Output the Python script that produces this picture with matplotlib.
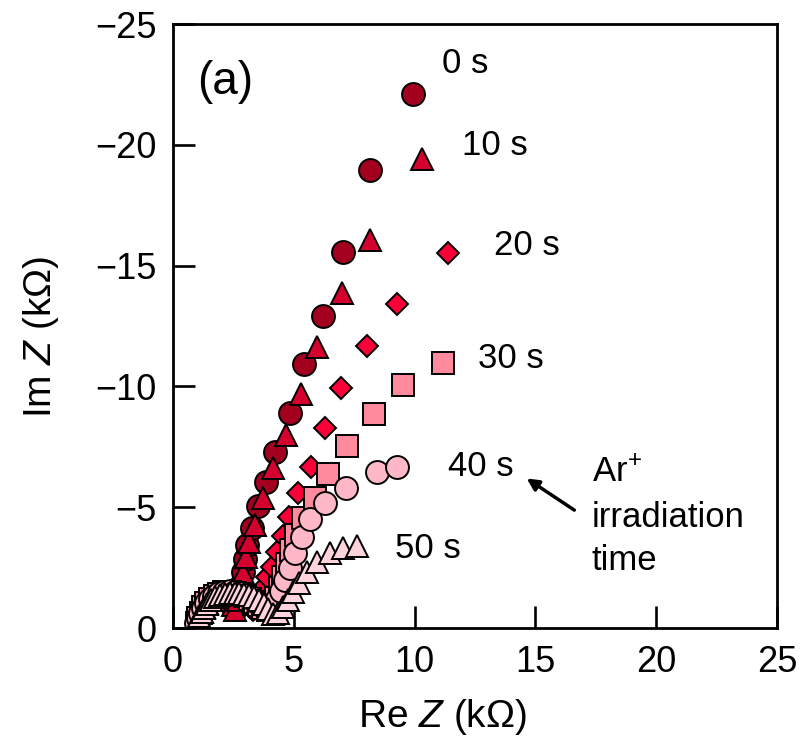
import matplotlib
matplotlib.use("Agg")
import matplotlib.pyplot as plt

plt.rcParams['font.family'] = ['Liberation Sans', 'DejaVu Sans']
plt.rcParams['mathtext.fontset'] = 'custom'
plt.rcParams['mathtext.rm'] = 'Liberation Sans'
plt.rcParams['mathtext.it'] = 'Liberation Sans:italic'

# ---- data (Re Z, Im Z in kOhm) ----
labels = ["0 s", "10 s", "20 s", "30 s", "40 s", "50 s"]

re_0 = [1.03, 1.10, 1.19, 1.29, 1.41, 1.54, 1.68, 1.83, 1.98, 2.13, 2.28, 2.42, 2.55,
        2.66, 2.74, 2.81, 2.89, 2.97, 3.08, 3.26, 3.50, 3.84, 4.22, 4.84, 5.42, 6.22, 7.05, 8.15, 9.95]
im_0 = [-0.28, -0.48, -0.68, -0.87, -1.03, -1.16, -1.25, -1.30, -1.30, -1.25, -1.15, -1.00, -0.80,
        -0.95, -1.35, -1.80, -2.30, -2.85, -3.45, -4.15, -5.03, -6.06, -7.30, -8.91, -10.91, -12.93, -15.55, -18.96, -22.09]

re_10 = [1.02, 1.09, 1.18, 1.29, 1.41, 1.55, 1.70, 1.86, 2.02, 2.18, 2.33, 2.47,
         2.57, 2.69, 2.79, 2.91, 3.02, 3.16, 3.39, 3.71, 4.15, 4.68, 5.28, 5.95, 6.98, 8.15, 10.32]
im_10 = [-0.25, -0.45, -0.65, -0.85, -1.02, -1.16, -1.26, -1.31, -1.31, -1.26, -1.15, -0.95,
         -0.75, -1.16, -1.66, -2.26, -2.95, -3.57, -4.26, -5.37, -6.61, -7.99, -9.67, -11.62, -13.85, -16.06, -19.40]

re_20 = [1.00, 1.07, 1.16, 1.27, 1.40, 1.55, 1.72, 1.90, 2.09, 2.28, 2.47, 2.66, 2.84, 3.01, 3.17,
         3.32, 3.48, 3.62, 3.75, 3.90, 4.09, 4.32, 4.54, 4.81, 5.16, 5.70, 6.29, 6.95, 8.02, 9.26, 11.40]
im_20 = [-0.25, -0.45, -0.66, -0.86, -1.04, -1.19, -1.31, -1.39, -1.43, -1.43, -1.39, -1.31, -1.19, -1.04, -0.88,
         -0.75, -0.95, -1.30, -1.70, -2.12, -2.54, -3.16, -3.81, -4.61, -5.58, -6.68, -8.29, -9.92, -11.69, -13.39, -15.54]

re_30 = [0.98, 1.05, 1.14, 1.25, 1.38, 1.54, 1.72, 1.92, 2.13, 2.35, 2.57, 2.79, 3.00, 3.20, 3.39, 3.57, 3.74,
         3.92, 4.10, 4.28, 4.42, 4.55, 4.70, 4.88, 5.09, 5.39, 5.88, 6.43, 7.19, 8.32, 9.53, 11.16]
im_30 = [-0.22, -0.43, -0.64, -0.85, -1.04, -1.20, -1.33, -1.42, -1.47, -1.48, -1.46, -1.41, -1.33, -1.22, -1.08, -0.94, -0.82,
         -0.75, -0.95, -1.25, -1.65, -2.12, -2.65, -3.23, -3.85, -4.54, -5.40, -6.36, -7.55, -8.86, -10.06, -10.96]

re_40 = [0.97, 1.04, 1.13, 1.24, 1.37, 1.53, 1.71, 1.91, 2.12, 2.34, 2.56, 2.78, 3.00, 3.21, 3.41, 3.60, 3.78,
         3.96, 4.15, 4.32, 4.48, 4.64, 4.84, 5.05, 5.33, 5.67, 6.29, 7.16, 8.46, 9.28]
im_40 = [-0.21, -0.42, -0.63, -0.84, -1.03, -1.20, -1.34, -1.44, -1.50, -1.52, -1.51, -1.46, -1.38, -1.27, -1.13, -0.98, -0.85,
         -0.78, -0.90, -1.18, -1.55, -1.99, -2.47, -3.09, -3.78, -4.51, -5.17, -5.81, -6.44, -6.68]

re_50 = [0.97, 1.02, 1.09, 1.18, 1.29, 1.42, 1.57, 1.75, 1.95, 2.15, 2.35, 2.55, 2.75, 2.95, 3.15, 3.35, 3.55,
         3.75, 3.95, 4.15, 4.35, 4.57, 4.77, 4.98, 5.22, 5.55, 5.98, 6.50, 7.05, 7.63]
im_50 = [-0.20, -0.34, -0.50, -0.67, -0.84, -1.00, -1.15, -1.27, -1.36, -1.42, -1.45, -1.46, -1.45, -1.42, -1.36, -1.27, -1.15,
         -1.00, -0.80, -0.60, -0.62, -0.85, -1.16, -1.50, -1.88, -2.30, -2.72, -3.10, -3.33, -3.40]

series = [(re_0, im_0), (re_10, im_10), (re_20, im_20), (re_30, im_30), (re_40, im_40), (re_50, im_50)]
markers = ['o', '^', 'D', 's', 'o', '^']
sizes = [16.5, 16.5, 11.5, 15.8, 16.5, 16.5]
colors = ['#A3001F', '#D4002E', '#FA0038', '#FF8A9D', '#FFB8C7', '#FFD3DB']

# label positions (data coords)
label_x = [11.13, 11.95, 13.29, 12.64, 11.40, 9.19]
label_y = [-22.96, -19.58, -15.44, -10.77, -6.30, -2.88]

fig = plt.figure(figsize=(8.06, 7.56), dpi=100)
ax = fig.add_axes([173 / 806, 1 - 628 / 756, 604 / 806, 604 / 756])

for (xr, yi), m, s, c in zip(series, markers, sizes, colors):
    ax.plot(xr, yi, linestyle='none', marker=m, markersize=s,
            markerfacecolor=c, markeredgecolor='black', markeredgewidth=1.4)

for lab, lx, ly in zip(labels, label_x, label_y):
    ax.text(lx, ly, lab, fontsize=25, ha='left', va='baseline')

ax.text(1.0, -22.1, "(a)", fontsize=33, ha='left', va='baseline')
ax.text(17.33, -6.06, "Ar$^{+}$", fontsize=25, ha='left', va='baseline')
ax.text(17.33, -4.19, "irradiation", fontsize=25, ha='left', va='baseline')
ax.text(17.33, -2.40, "time", fontsize=25, ha='left', va='baseline')
ax.annotate("", xy=(14.64, -6.19), xytext=(16.61, -4.88),
            arrowprops=dict(arrowstyle='-|>,head_length=0.7,head_width=0.35',
                            color='black', lw=2.5, shrinkA=0, shrinkB=0))

ax.set_xlim(0, 25)
ax.set_ylim(0, -25)
ax.set_xticks([0, 5, 10, 15, 20, 25])
ax.set_yticks([0, -5, -10, -15, -20, -25])
ax.tick_params(direction='in', length=15.5, width=1.9, labelsize=26, pad=12,
               top=False, right=False)
for sp in ax.spines.values():
    sp.set_linewidth(2.0)

ax.set_xlabel("Re $Z$ (k\u03a9)", fontsize=28)
ax.set_ylabel("Im $Z$ (k\u03a9)", fontsize=28)
ax.xaxis.set_label_coords(0.447, -0.115)
ax.yaxis.set_label_coords(-0.185, 0.483)

fig.savefig("out.png", dpi=100)
